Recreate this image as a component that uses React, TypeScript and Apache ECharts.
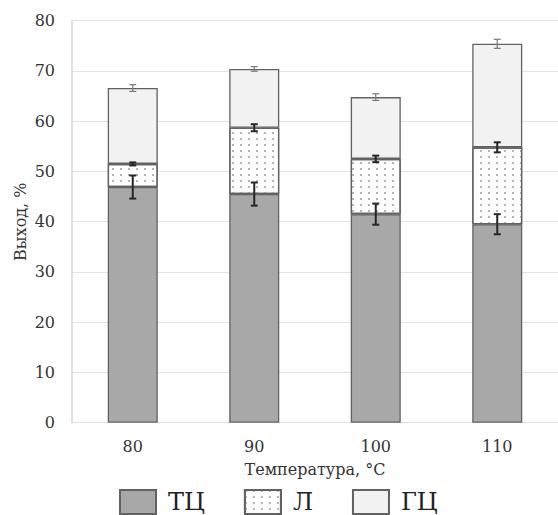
import React, { useEffect, useRef } from "react";
import * as echarts from "echarts";

const categories = ["80", "90", "100", "110"];
const seriesNames = ["ТЦ", "Л", "ГЦ"];
const tcValues = [46.9, 45.5, 41.5, 39.5];
const lValues = [4.6, 13.2, 11.0, 15.3];
const gcValues = [15.1, 11.7, 12.3, 20.6];
const tcErrors = [2.3, 2.3, 2.1, 2.0];
const lErrors = [0.3, 0.7, 0.65, 1.0];
const gcErrors = [0.67, 0.45, 0.67, 0.9];
const yTicks = [0, 10, 20, 30, 40, 50, 60, 70, 80];

const FONT = "DejaVu Serif";

function errorData(values: number[][], errors: number[]) {
  return categories.map((_, i) => {
    let top = 0;
    values.forEach((arr) => (top += arr[i]));
    return [i, top, errors[i]];
  });
}

function errorSeries(data: number[][], color: string, width: number, half: number) {
  return {
    type: "custom",
    coordinateSystem: "cartesian2d",
    silent: true,
    z: 10,
    data,
    encode: { x: 0, y: 1 },
    renderItem: (params: any, api: any) => {
      const x = api.value(0);
      const y = api.value(1);
      const e = api.value(2);
      const hi = api.coord([x, y + e]);
      const lo = api.coord([x, y - e]);
      const style = { stroke: color, lineWidth: width };
      return {
        type: "group",
        children: [
          { type: "line", shape: { x1: hi[0], y1: hi[1], x2: lo[0], y2: lo[1] }, style },
          { type: "line", shape: { x1: hi[0] - half, y1: hi[1], x2: hi[0] + half, y2: hi[1] }, style },
          { type: "line", shape: { x1: lo[0] - half, y1: lo[1], x2: lo[0] + half, y2: lo[1] }, style },
        ],
      };
    },
  };
}

export default function App() {
  const ref = useRef<HTMLDivElement>(null);
  useEffect(() => {
    if (!ref.current) return;
    const chart = echarts.init(ref.current, undefined, { renderer: "svg" });
    const border = { borderColor: "#626262", borderWidth: 1.3 };
    chart.setOption({
      animation: false,
      backgroundColor: "#ffffff",
      textStyle: { fontFamily: FONT },
      grid: { left: 72, top: 20.7, width: 487, bottom: 92.3, containLabel: false },
      legend: {
        left: 114,
        top: 484,
        icon: "rect",
        itemWidth: 36,
        itemHeight: 24,
        itemGap: 39,
        textStyle: { fontSize: 24, fontFamily: FONT, color: "#222", padding: [0, 0, 0, 7] },
        data: seriesNames,
      },
      xAxis: {
        type: "category",
        data: categories,
        name: "Температура, °С",
        nameLocation: "middle",
        nameGap: 39,
        nameTextStyle: { fontSize: 16, fontFamily: FONT, color: "#333" },
        axisLine: { lineStyle: { color: "#8a8a8a", width: 1.5, shadowColor: "rgba(0,0,0,0.25)", shadowBlur: 2, shadowOffsetY: 1 } },
        axisTick: { show: false },
        axisLabel: { fontSize: 16, fontFamily: FONT, color: "#333", margin: 16 },
      },
      yAxis: {
        type: "value",
        min: yTicks[0],
        max: yTicks[yTicks.length - 1],
        interval: 10,
        name: "Выход, %",
        nameLocation: "middle",
        nameRotate: 90,
        nameGap: 44,
        nameMoveOverlap: false,
        nameTextStyle: { fontSize: 16, fontFamily: FONT, color: "#333" },
        axisLine: { show: true, lineStyle: { color: "#d6d6d6", width: 1.5 } },
        axisTick: { show: false },
        axisLabel: { fontSize: 16, fontFamily: FONT, color: "#333", margin: 17 },
        splitLine: { lineStyle: { color: "#e2e2e2", width: 1.2 } },
      },
      series: [
        {
          name: seriesNames[0],
          type: "bar",
          stack: "s",
          barWidth: 50,
          data: tcValues,
          itemStyle: { color: "#a8a8a8", ...border },
        },
        {
          name: seriesNames[1],
          type: "bar",
          stack: "s",
          barWidth: 50,
          data: lValues,
          itemStyle: {
            color: "#ffffff",
            ...border,
            decal: {
              symbol: "rect",
              symbolSize: 1,
              color: "#b4b4b4",
              backgroundColor: "#ffffff",
              dashArrayX: [1.4, 5.6],
              dashArrayY: [1.4, 3.6],
              rotation: 0,
            },
          },
        },
        {
          name: seriesNames[2],
          type: "bar",
          stack: "s",
          barWidth: 50,
          data: gcValues,
          itemStyle: { color: "#f2f2f2", ...border },
        },
        errorSeries(errorData([tcValues], tcErrors), "#262626", 2, 3.5),
        errorSeries(errorData([tcValues, lValues], lErrors), "#262626", 2, 3.5),
        errorSeries(errorData([tcValues, lValues, gcValues], gcErrors), "#7a7a7a", 1.2, 3.5),
      ],
    });
    return () => chart.dispose();
  }, []);
  return <div ref={ref} style={{ width: 558, height: 515, position: "absolute", left: 0, top: 0 }} />;
}
